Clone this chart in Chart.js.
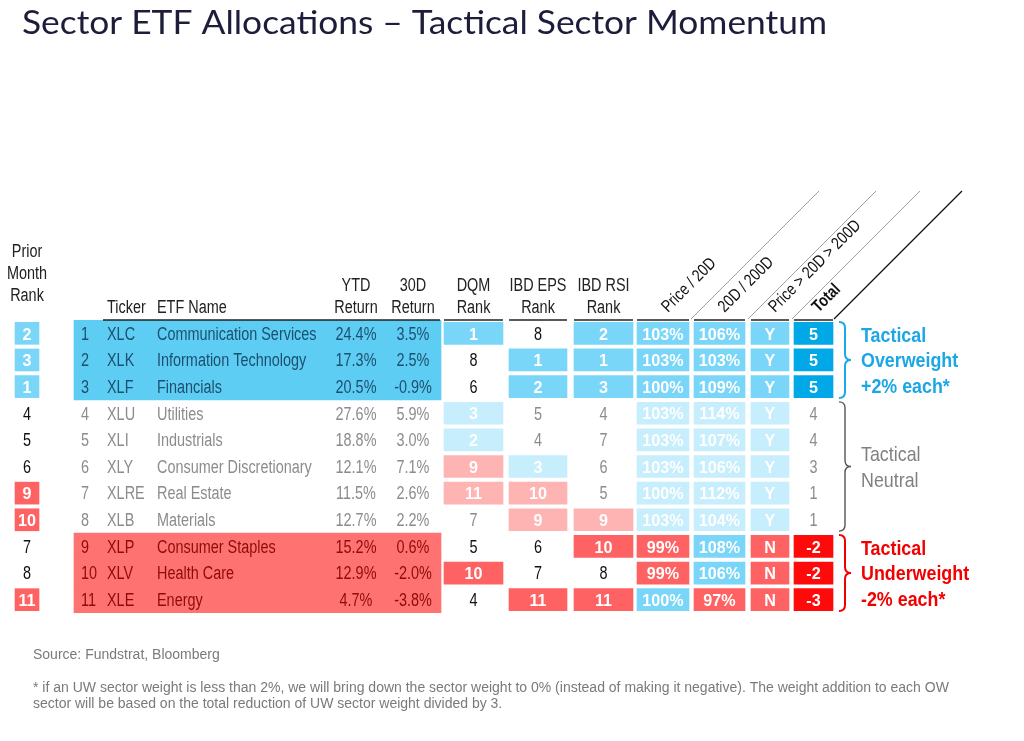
<!DOCTYPE html>
<html>
<head>
<meta charset="utf-8">
<script src="https://cdn.jsdelivr.net/npm/chart.js@4.4.1/dist/chart.umd.min.js"></script>
<style>
  html, body { margin: 0; padding: 0; background: #fff; }
  canvas { display: block; }
</style>
</head>
<body>
<canvas id="sectorTable" width="1024" height="741"></canvas>
<script>
// ---- data ----
let ranks = [1, 2, 3, 4, 5, 6, 7, 8, 9, 10, 11];
let tickers = ['XLC', 'XLK', 'XLF', 'XLU', 'XLI', 'XLY', 'XLRE', 'XLB', 'XLP', 'XLV', 'XLE'];
let etfNames = [
    'Communication Services',
    'Information Technology',
    'Financials',
    'Utilities',
    'Industrials',
    'Consumer Discretionary',
    'Real Estate',
    'Materials',
    'Consumer Staples',
    'Health Care',
    'Energy'
];
let priorRank = [2, 3, 1, 4, 5, 6, 9, 10, 7, 8, 11];
let ytdReturn = [24.4, 17.3, 20.5, 27.6, 18.8, 12.1, 11.5, 12.7, 15.2, 12.9, 4.7];
let d30Return = [3.5, 2.5, -0.9, 5.9, 3.0, 7.1, 2.6, 2.2, 0.6, -2.0, -3.8];
let dqmRank = [1, 8, 6, 3, 2, 9, 11, 7, 5, 10, 4];
let epsRank = [8, 1, 2, 5, 4, 3, 10, 9, 6, 7, 11];
let rsiRank = [2, 1, 3, 4, 7, 6, 5, 9, 10, 8, 11];
let price20d = [103, 103, 100, 103, 103, 103, 100, 103, 99, 99, 100];
let d20d200d = [106, 103, 109, 114, 107, 106, 112, 104, 108, 106, 97];
let trendFlag = ['Y', 'Y', 'Y', 'Y', 'Y', 'Y', 'Y', 'Y', 'N', 'N', 'N'];
let totalScore = [5, 5, 5, 4, 4, 3, 1, 1, -2, -2, -3];
let groups = ['OW', 'OW', 'OW', 'N', 'N', 'N', 'N', 'N', 'UW', 'UW', 'UW'];

// cell shading: B blue, b light blue, R red, r light red, T total blue, X total red
let priorShade = ['B', 'B', 'B', '', '', '', 'R', 'R', '', '', 'R'];
let dqmShade   = ['B', '', '', 'b', 'b', 'r', 'r', '', '', 'R', ''];
let epsShade   = ['', 'B', 'B', '', '', 'b', 'r', 'r', '', '', 'R'];
let rsiShade   = ['B', 'B', 'B', '', '', '', '', 'r', 'R', '', 'R'];
let p20Shade   = ['B', 'B', 'B', 'b', 'b', 'b', 'b', 'b', 'R', 'R', 'B'];
let d200Shade  = ['B', 'B', 'B', 'b', 'b', 'b', 'b', 'b', 'B', 'B', 'R'];
let flagShade  = ['B', 'B', 'B', 'b', 'b', 'b', 'b', 'b', 'R', 'R', 'R'];
let totalShade = ['T', 'T', 'T', '', '', '', '', '', 'X', 'X', 'X'];

let rotatedHeaders = ['Price / 20D', '20D / 200D', 'Price > 20D > 200D', 'Total'];

// ---- layout (x in page units) and styles ----
const shadeColors = {
    B: '#79d6f9',
    b: '#c6eefc',
    R: '#ff6262',
    r: '#ffb4b4',
    T: '#00a8e8',
    X: '#ff0a0a'
};
const blockColors = { OW: '#5ecdf3', UW: '#ff7272' };
const blockText = { OW: '#1d4f6e', UW: '#8e0b0b', N: '#8c8c8c' };
const groupText = { OW: '#1ba6e5', UW: '#f20000', N: '#808080' };

const cols = {
    prior: [15, 39],
    block: [74, 441],
    dqm: [444, 503],
    eps: [509, 567],
    rsi: [574, 633],
    p20: [637, 689],
    d200: [694, 745],
    flag: [751, 789],
    total: [794, 833]
};
const rankX = 81, tickerX = 107, nameX = 157, ytdX = 356, d30X = 413;
const FONT = '"Liberation Sans", Arial, sans-serif';
const NARROW = 0.82;
const BODY = 17.6;
const DY = 1.5;   // nudge so text sits on the row centre visually

function cellDataset(shade, span) {
    return {
        data: shade.map(s => s ? span : null),
        backgroundColor: shade.map(s => shadeColors[s] || 'rgba(0,0,0,0)'),
        barThickness: 22,
        grouped: false
    };
}

const blockDataset = {
    data: groups.map(g => g === 'N' ? null : cols.block),
    backgroundColor: groups.map(g => blockColors[g] || 'rgba(0,0,0,0)'),
    barPercentage: 1,
    categoryPercentage: 1,
    grouped: false
};

function txt(ctx, s, x, y, o) {
    ctx.save();
    ctx.translate(x, y);
    if (o.rot) ctx.rotate(o.rot);
    ctx.scale(o.sx || NARROW, 1);
    ctx.font = (o.bold ? 'bold ' : '') + o.size + 'px ' + (o.family || FONT);
    ctx.fillStyle = o.color || '#111';
    ctx.textAlign = o.align || 'left';
    ctx.textBaseline = o.base || 'middle';
    ctx.fillText(s, 0, 0);
    ctx.restore();
}

function brace(ctx, x0, top, bot, color, width) {
    const x1 = x0 + 6, x2 = x0 + 12, mid = (top + bot) / 2, r = 6;
    ctx.save();
    ctx.strokeStyle = color;
    ctx.lineWidth = width;
    ctx.beginPath();
    ctx.moveTo(x0, top);
    ctx.quadraticCurveTo(x1, top, x1, top + r);
    ctx.lineTo(x1, mid - r);
    ctx.quadraticCurveTo(x1, mid, x2, mid);
    ctx.quadraticCurveTo(x1, mid, x1, mid + r);
    ctx.lineTo(x1, bot - r);
    ctx.quadraticCurveTo(x1, bot, x0, bot);
    ctx.stroke();
    ctx.restore();
}

const tableText = {
    id: 'tableText',
    afterDatasetsDraw(chart) {
        const ctx = chart.ctx;
        const xs = chart.scales.x, ys = chart.scales.y;
        const X = v => xs.getPixelForValue(v);
        const Y = i => ys.getPixelForValue(i);
        const pitch = Y(1) - Y(0);
        const top = chart.chartArea.top;
        const mid = span => (X(span[0]) + X(span[1])) / 2;

        // title
        txt(ctx, 'Sector ETF Allocations \u2013 Tactical Sector Momentum', 22, 24,
            { size: 32, sx: 1.105, color: '#1d1d3b', family: 'Lato, "Open Sans", sans-serif' });

        // headers
        const hd = { size: BODY, align: 'center', color: '#222' };
        ['Prior', 'Month', 'Rank'].forEach((t, k) => txt(ctx, t, mid(cols.prior), 252 + k * 22, hd));
        txt(ctx, 'Ticker', X(tickerX), 308, { size: BODY, color: '#222' });
        txt(ctx, 'ETF Name', X(nameX), 308, { size: BODY, color: '#222' });
        const twoLine = [['YTD', 'Return', X(ytdX)], ['30D', 'Return', X(d30X)],
            ['DQM', 'Rank', mid(cols.dqm)], ['IBD EPS', 'Rank', mid(cols.eps)], ['IBD RSI', 'Rank', mid(cols.rsi)]];
        twoLine.forEach(h => {
            txt(ctx, h[0], h[2], 286, hd);
            txt(ctx, h[1], h[2], 308, hd);
        });

        // header underlines
        ctx.save();
        ctx.strokeStyle = '#222';
        ctx.lineWidth = 1.5;
        [[103, 440], cols.dqm, cols.eps, cols.rsi, cols.p20, cols.d200, cols.flag, cols.total].forEach(s => {
            ctx.beginPath();
            ctx.moveTo(X(s[0]), top);
            ctx.lineTo(X(s[1]), top);
            ctx.stroke();
        });
        ctx.restore();

        // diagonal header lines
        const rise = 128;
        [[X(691), '#a0a0a0', 1], [X(748), '#a0a0a0', 1], [X(792), '#a0a0a0', 1], [X(834), '#111', 1.3]].forEach(d => {
            ctx.save();
            ctx.strokeStyle = d[1];
            ctx.lineWidth = d[2];
            ctx.beginPath();
            ctx.moveTo(d[0], top - 1);
            ctx.lineTo(d[0] + rise, top - 1 - rise);
            ctx.stroke();
            ctx.restore();
        });
        [cols.p20, cols.d200, cols.flag, cols.total].forEach((s, k) => {
            txt(ctx, rotatedHeaders[k], mid(s) + 5, top - 7,
                { size: 17, rot: -Math.PI / 4, color: '#111', bold: k === 3, base: 'alphabetic' });
        });

        // rows
        ranks.forEach((r, i) => {
            const y = Y(i) + DY;
            const g = groups[i];
            const plain = g === 'N' ? '#8c8c8c' : '#111';
            const bc = blockText[g];
            const body = { size: BODY, color: bc };
            const bodyC = { size: BODY, color: bc, align: 'center' };
            txt(ctx, String(priorRank[i]), mid(cols.prior), y,
                priorShade[i] ? { size: 17, bold: true, sx: 0.95, align: 'center', color: '#fff' }
                              : { size: BODY, align: 'center', color: '#111' });
            txt(ctx, String(r), X(rankX), y, body);
            txt(ctx, tickers[i], X(tickerX), y, body);
            txt(ctx, etfNames[i], X(nameX), y, body);
            txt(ctx, ytdReturn[i].toFixed(1) + '%', X(ytdX), y, bodyC);
            txt(ctx, d30Return[i].toFixed(1) + '%', X(d30X), y, bodyC);

            const cells = [
                [dqmRank[i], dqmShade[i], cols.dqm],
                [epsRank[i], epsShade[i], cols.eps],
                [rsiRank[i], rsiShade[i], cols.rsi],
                [price20d[i] + '%', p20Shade[i], cols.p20],
                [d20d200d[i] + '%', d200Shade[i], cols.d200],
                [trendFlag[i], flagShade[i], cols.flag],
                [totalScore[i], totalShade[i], cols.total]
            ];
            cells.forEach(c => {
                const o = c[1] ? { size: 17, bold: true, sx: 0.95, align: 'center', color: '#fff' }
                               : { size: BODY, align: 'center', color: plain };
                txt(ctx, String(c[0]), mid(c[2]), y, o);
            });
        });

        // group braces and labels
        const spans = [['OW', 0, 2, ['Tactical', 'Overweight', '+2% each*']],
                       ['N', 3, 7, ['Tactical', 'Neutral']],
                       ['UW', 8, 10, ['Tactical', 'Underweight', '-2% each*']]];
        spans.forEach(sp => {
            const g = sp[0];
            const t0 = Y(sp[1]) - pitch / 2 + 2, t1 = Y(sp[2]) + pitch / 2 - 2;
            brace(ctx, X(839), t0, t1, g === 'N' ? '#555' : groupText[g], g === 'N' ? 1.4 : 2);
            const lines = sp[3];
            const cy = (t0 + t1) / 2 + DY;
            lines.forEach((l, k) => {
                const ly = cy + (k - (lines.length - 1) / 2) * 25.5;
                txt(ctx, l, X(861), ly, { size: 21, bold: g !== 'N', sx: 0.85, color: groupText[g] });
            });
        });

        // footnotes
        const fn = { size: 14, sx: 1, color: '#7a7a7a' };
        txt(ctx, 'Source: Fundstrat, Bloomberg', 33, 655, fn);
        txt(ctx, '* if an UW sector weight is less than 2%, we will bring down the sector weight to 0% (instead of making it negative). The weight addition to each OW',
            33, 688, fn);
        txt(ctx, 'sector will be based on the total reduction of UW sector weight divided by 3.', 33, 704, fn);
    }
};

const config = {
    type: 'bar',
    data: {
        labels: tickers,
        datasets: [
            blockDataset,
            cellDataset(priorShade, cols.prior),
            cellDataset(dqmShade, cols.dqm),
            cellDataset(epsShade, cols.eps),
            cellDataset(rsiShade, cols.rsi),
            cellDataset(p20Shade, cols.p20),
            cellDataset(d200Shade, cols.d200),
            cellDataset(flagShade, cols.flag),
            cellDataset(totalShade, cols.total)
        ]
    },
    options: {
        indexAxis: 'y',
        responsive: false,
        animation: false,
        layout: { padding: { top: 320, bottom: 128, left: 0, right: 0 } },
        plugins: {
            legend: { display: false },
            tooltip: { enabled: false }
        },
        scales: {
            x: { type: 'linear', min: 0, max: 1024, display: false },
            y: { display: false }
        }
    },
    plugins: [tableText]
};

const chart = new Chart(document.getElementById('sectorTable'), config);
</script>
</body>
</html>
